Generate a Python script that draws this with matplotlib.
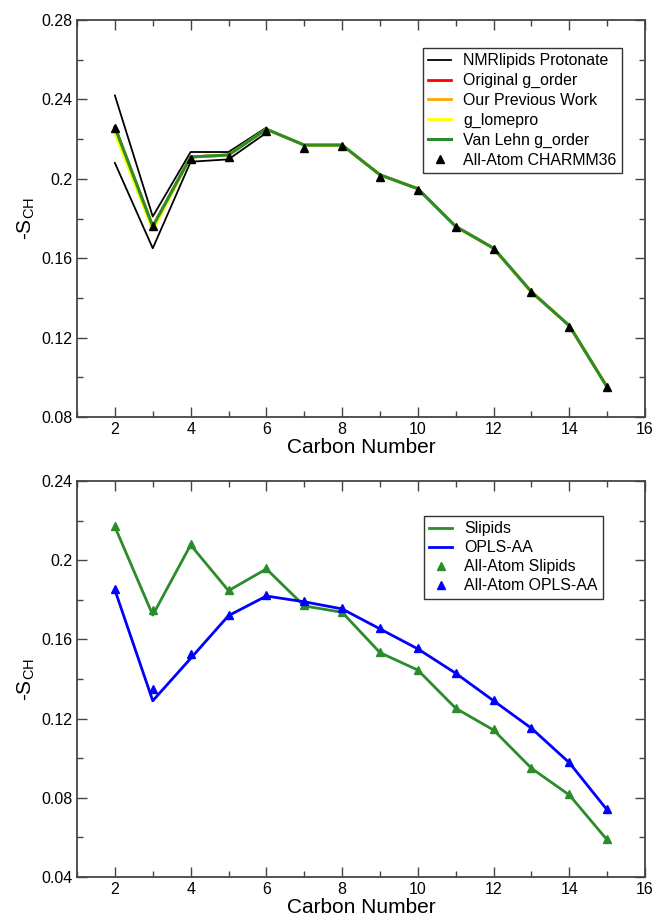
import numpy as np
import matplotlib
matplotlib.use('Agg')
import matplotlib.pyplot as plt
from matplotlib.ticker import MultipleLocator

plt.rcParams['font.family'] = ['Liberation Sans', 'DejaVu Sans']

# ---- top panel data (CHARMM36) ----
carbons = [2, 3, 4, 5, 6, 7, 8, 9, 10, 11, 12, 13, 14, 15]
carbons_nmr = [2, 3, 4, 5, 6]
nmr_upper = [0.242, 0.181, 0.2135, 0.2135, 0.2258]
nmr_lower = [0.208, 0.165, 0.2086, 0.2098, 0.2232]
orig_gorder = [0.226, 0.176, 0.211, 0.212, 0.225, 0.217, 0.217, 0.202, 0.195, 0.176, 0.165, 0.143, 0.126, 0.095]
prev_work = [0.226, 0.176, 0.211, 0.212, 0.225, 0.217, 0.217, 0.202, 0.195, 0.176, 0.165, 0.143, 0.126, 0.095]
g_lomepro = [0.223, 0.174, 0.211, 0.212, 0.225, 0.217, 0.217, 0.202, 0.195, 0.176, 0.165, 0.143, 0.126, 0.095]
vanlehn = [0.226, 0.176, 0.211, 0.212, 0.225, 0.217, 0.217, 0.202, 0.195, 0.176, 0.165, 0.143, 0.126, 0.095]
aa_charmm = [0.2256, 0.176, 0.210, 0.211, 0.224, 0.2155, 0.2165, 0.2010, 0.1945, 0.1759, 0.1645, 0.1431, 0.1255, 0.0953]

# ---- bottom panel data ----
slipids = [0.2169, 0.1723, 0.2077, 0.1846, 0.1956, 0.1769, 0.1737, 0.1533, 0.1445, 0.1252, 0.1142, 0.0949, 0.0814, 0.0587]
aa_slipids = [0.2172, 0.1747, 0.2080, 0.1849, 0.1960, 0.1775, 0.1740, 0.1536, 0.1448, 0.1255, 0.1145, 0.0952, 0.0817, 0.0590]
opls = [0.1850, 0.1290, 0.1504, 0.1720, 0.1819, 0.1790, 0.1754, 0.1653, 0.1552, 0.1429, 0.1290, 0.1151, 0.0977, 0.0738]
aa_opls = [0.1853, 0.1349, 0.1524, 0.1723, 0.1822, 0.1793, 0.1757, 0.1656, 0.1555, 0.1432, 0.1293, 0.1154, 0.0980, 0.0741]

green = '#2a8c2a'

fig = plt.figure(figsize=(6.56, 9.22), dpi=100)
ax1 = fig.add_axes([0.1174, 0.5477, 0.866, 0.4306])
ax2 = fig.add_axes([0.1174, 0.0488, 0.866, 0.4295])

# top panel
ax1.plot(carbons_nmr, nmr_upper, color='black', lw=1.3, label='NMRlipids Protonate')
ax1.plot(carbons_nmr, nmr_lower, color='black', lw=1.3)
ax1.plot(carbons, orig_gorder, color='red', lw=2, label='Original g_order')
ax1.plot(carbons, prev_work, color='orange', lw=2, label='Our Previous Work')
ax1.plot(carbons, g_lomepro, color='yellow', lw=2, label='g_lomepro')
ax1.plot(carbons, vanlehn, color=green, lw=2.2, label='Van Lehn g_order')
ax1.plot(carbons, aa_charmm, ls='none', marker='^', color='black', ms=6, label='All-Atom CHARMM36')
ax1.set_ylim(0.08, 0.28)
ax1.set_yticks([0.08, 0.12, 0.16, 0.2, 0.24, 0.28])
ax1.set_yticklabels(['0.08', '0.12', '0.16', '0.2', '0.24', '0.28'])
ax1.yaxis.set_minor_locator(MultipleLocator(0.02))
leg1 = ax1.legend(loc='upper right', bbox_to_anchor=(0.959, 0.930), fontsize=11.4,
                  frameon=True, fancybox=False, edgecolor='black', handlelength=1.45,
                  borderpad=0.35, labelspacing=0.3, handletextpad=0.75, borderaxespad=0)
leg1.get_frame().set_linewidth(1.0)

# bottom panel
ax2.plot(carbons, slipids, color=green, lw=2, label='Slipids')
ax2.plot(carbons, opls, color='blue', lw=2, label='OPLS-AA')
ax2.plot(carbons, aa_slipids, ls='none', marker='^', color=green, ms=6, label='All-Atom Slipids')
ax2.plot(carbons, aa_opls, ls='none', marker='^', color='blue', ms=6, label='All-Atom OPLS-AA')
ax2.set_ylim(0.04, 0.24)
ax2.set_yticks([0.04, 0.08, 0.12, 0.16, 0.2, 0.24])
ax2.set_yticklabels(['0.04', '0.08', '0.12', '0.16', '0.2', '0.24'])
ax2.yaxis.set_minor_locator(MultipleLocator(0.02))
leg2 = ax2.legend(loc='upper right', bbox_to_anchor=(0.926, 0.912), fontsize=11.4,
                  frameon=True, fancybox=False, edgecolor='black', handlelength=1.45,
                  borderpad=0.35, labelspacing=0.25, handletextpad=0.75, borderaxespad=0)
leg2.get_frame().set_linewidth(1.0)

for ax in (ax1, ax2):
    ax.set_xlim(1, 16)
    ax.xaxis.set_major_locator(MultipleLocator(2))
    ax.xaxis.set_minor_locator(MultipleLocator(1))
    ax.tick_params(which='both', direction='in', top=True, right=True, labelsize=11.5, color='#444444')
    ax.tick_params(which='major', length=7, width=1)
    ax.tick_params(which='minor', length=4, width=1)
    for s in ax.spines.values():
        s.set_linewidth(1.3)
        s.set_color('#444444')
    ax.set_xlabel('Carbon Number', fontsize=15, labelpad=1)
    ax.set_ylabel('-S$_{\\mathregular{CH}}$', fontsize=15, labelpad=3)

fig.savefig('out.png', dpi=100)
